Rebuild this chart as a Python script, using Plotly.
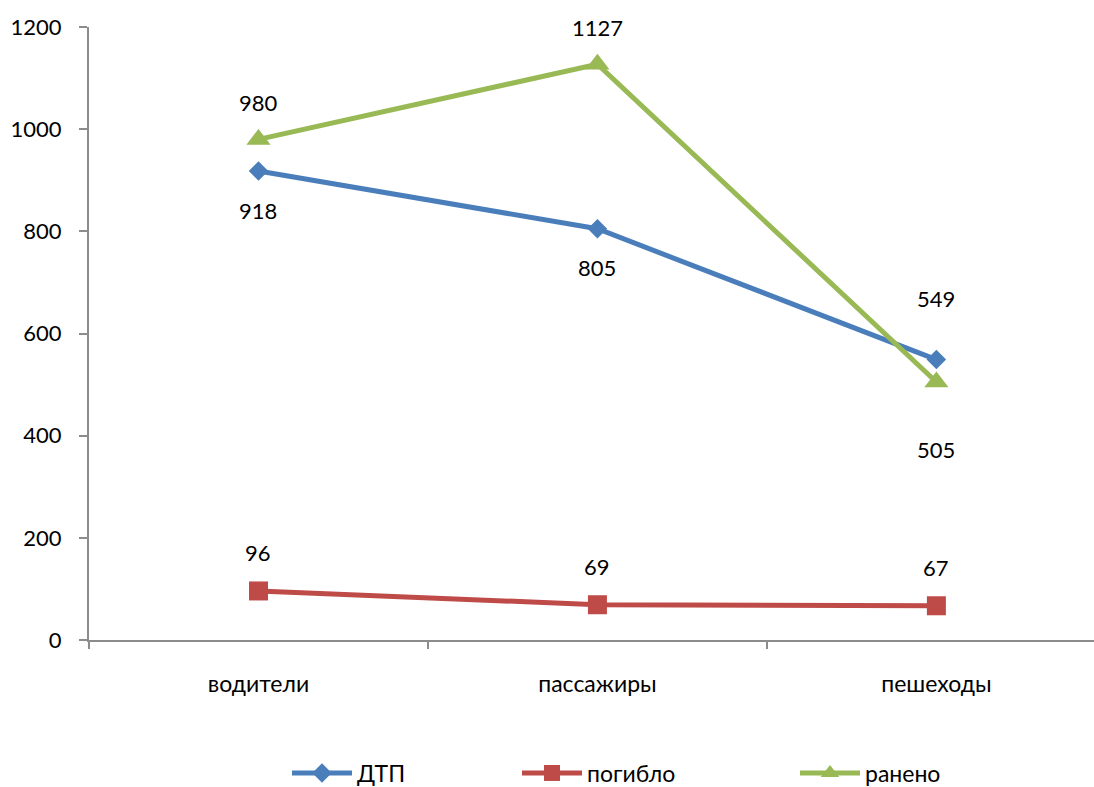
import plotly.graph_objects as go

categories = ["водители", "пассажиры", "пешеходы"]
dtp = [918, 805, 549]
pogiblo = [96, 69, 67]
raneno = [980, 1127, 505]
y_ticks = [0, 200, 400, 600, 800, 1000, 1200]

# vertical label offsets (pixels) from each point: positive above, negative below
dtp_shift = [-39, -39, 61]
pogiblo_shift = [38, 38, 38]
raneno_shift = [37, 37, -67]

FONT = "Lato"
x = list(range(len(categories)))

series = [
    ("ДТП", dtp, dtp_shift, "#4A7EBB", "diamond", 15, "legend", 287),
    ("погибло", pogiblo, pogiblo_shift, "#BE4B48", "square", 19, "legend2", 517),
    ("ранено", raneno, raneno_shift, "#98B954", "triangle-up", 21, "legend3", 795),
]

fig = go.Figure()
annotations = []
legends = {}
for name, vals, shifts, color, sym, msize, leg, leg_px in series:
    fig.add_trace(go.Scatter(
        x=x, y=vals, name=name, mode="lines+markers",
        line=dict(color=color, width=5),
        marker=dict(symbol=sym, size=msize, color=color),
        legend=leg,
    ))
    for xi, v, s in zip(x, vals, shifts):
        annotations.append(dict(
            x=xi, y=v, text=str(v), showarrow=False,
            yshift=s, yanchor="middle", xanchor="center",
            font=dict(family=FONT, size=22, color="#000000"),
        ))
    legends[leg] = dict(
        orientation="h", x=(leg_px - 89) / 1005, xanchor="left",
        y=-0.217, yanchor="middle", font=dict(family=FONT, size=23),
        itemwidth=60, bgcolor="rgba(0,0,0,0)",
    )

fig.update_layout(
    width=1094, height=787,
    margin=dict(l=89, r=0, t=27, b=147, autoexpand=False),
    paper_bgcolor="white", plot_bgcolor="white",
    font=dict(family=FONT, size=22, color="#000000"),
    annotations=annotations,
    showlegend=True,
    **legends,
)

fig.update_xaxes(
    range=[-0.5, 2.465],
    tickvals=x, ticktext=categories, ticks="",
    tickfont=dict(size=23),
    showline=True, linecolor="#8C8C8C", linewidth=2,
    showgrid=False, zeroline=False,
    ticklabelstandoff=22,
    minor=dict(tickvals=[-0.5, 0.5, 1.5, 2.5], ticks="outside", ticklen=7,
               tickcolor="#8C8C8C", tickwidth=2, showgrid=False),
)
fig.update_yaxes(
    range=[0, 1200], tickvals=y_ticks,
    ticks="outside", ticklen=8, tickcolor="#8C8C8C", tickwidth=2,
    showline=True, linecolor="#8C8C8C", linewidth=2,
    showgrid=False, zeroline=False,
    ticklabelstandoff=13,
)

fig.write_html("out.html")
